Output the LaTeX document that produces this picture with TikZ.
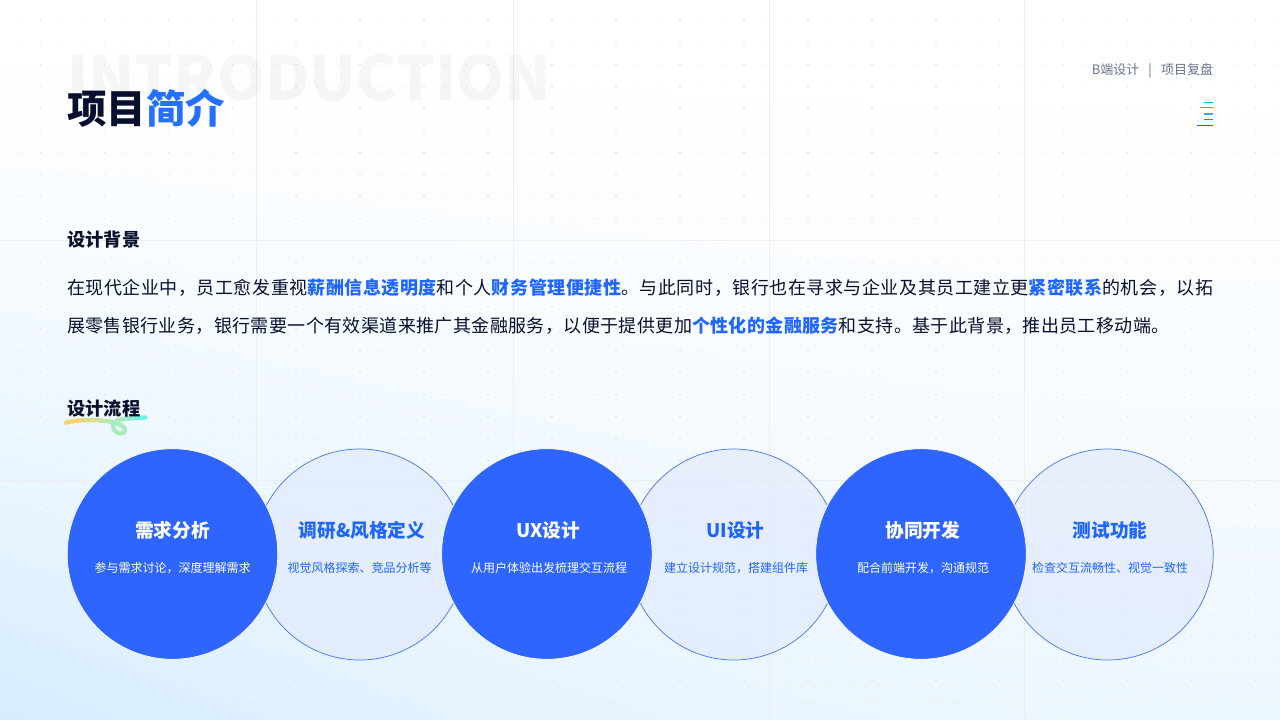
\documentclass[tikz,border=0pt]{standalone}
\usepackage{fontspec}
\setmainfont{Noto Sans CJK SC}
\newfontfamily\heavyfont[UprightFont=* Black,BoldFont=* Black]{Noto Sans CJK SC}
\newfontfamily\bodyfont[LetterSpace=2.2]{Noto Sans CJK SC}
\newfontfamily\bodywide[LetterSpace=3.05]{Noto Sans CJK SC}
\newcommand{\px}[1]{\pgfmathsetmacro\fsz{#1*0.75}\fontsize{\fsz pt}{\fsz pt}\selectfont}
\definecolor{ink}{HTML}{08102E}
\definecolor{accent}{HTML}{1F66FF}
\definecolor{titleblue}{HTML}{2670FF}
\definecolor{circblue}{HTML}{2E65FF}
\definecolor{circline}{HTML}{4D78EE}
\definecolor{graytxt}{HTML}{6B7589}
\definecolor{gridc}{HTML}{EEEEF0}
\definecolor{dotc}{HTML}{D6DAE2}
\definecolor{circfill}{HTML}{DFE8FC}
\definecolor{iconA}{HTML}{00B2FF}
\definecolor{iconB}{HTML}{19B8FF}
\definecolor{iconC}{HTML}{3DA5FF}
\definecolor{iconD}{HTML}{2B7FFF}
\definecolor{iconE}{HTML}{1560F0}
\definecolor{curlA}{HTML}{F6D46A}
\definecolor{curlB}{HTML}{DEDD8A}
\definecolor{curlC}{HTML}{BFE6A6}
\definecolor{curlD}{HTML}{AAEBBE}
\definecolor{curlE}{HTML}{8FEFD6}
\definecolor{curlF}{HTML}{6FF2E6}
\pgfdeclarefunctionalshading{pagebg}{\pgfpoint{0bp}{0bp}}{\pgfpoint{100bp}{100bp}}{}{
  25 sub 50 div 1 exch sub dup sqrt mul
  exch 25 sub 50 div 1 exch sub dup mul 0.55 mul 0.45 add
  mul
  dup 0.16 mul 1 exch sub exch
  dup 0.072 mul 1 exch sub exch
  pop 1
}
\tikzset{
  every node/.style={inner sep=0pt,outer sep=0pt},
  darkcirc/.style={circle,minimum size=157.9pt,fill=circblue,draw=white,line width=0.5pt},
  lightcirc/.style={circle,minimum size=158.25pt,draw=circline,line width=0.55pt,fill=circfill,fill opacity=0.6},
  gridline/.style={draw=gridc,line width=0.6pt},
  ctitle/.style={font=\px{18.7}\bfseries,anchor=center},
  csub/.style={font=\px{12},anchor=center},
  heading/.style={font=\px{18.2}\bfseries,text=ink,anchor=west},
  para/.style={font=\bodyfont\px{18},text=ink,anchor=west},
  iconbar/.style={line width=0.75pt},
  curl/.style={line width=3.2pt,line cap=round,line join=round}
}
\newcommand{\hl}[1]{\textcolor{accent}{\bfseries #1}}
\begin{document}
\begin{tikzpicture}[x=0.75pt,y=-0.75pt]
\useasboundingbox (0,0) rectangle (1280,720);
\shade[shading=pagebg] (0,0) rectangle (1280,720);
% dots
\foreach \i in {0,...,59}{\foreach \j in {0,...,32}{
  \fill[dotc] ({\i*21.33+18.7-0.5},{\j*22-1.3-0.5}) rectangle ++(1.1,1.1);
}}
% grid lines
\foreach \x in {256,513,769,1024}{\draw[gridline] (\x,0) -- (\x,720);}
\foreach \y in {240,480}{\draw[gridline] (0,\y) -- (1280,\y);}
% header
\node[anchor=west,text=ink,opacity=0.035,font=\heavyfont\px{61}] (intro) at (67,78) {INTRODUCTION};
\node[anchor=west,font=\heavyfont\px{39.5}] (title) at (67,108.5) {\textcolor{ink}{项目}\textcolor{titleblue}{简介}};
\node[anchor=east,text=graytxt,font=\px{13}] (crumb) at (1213,70.5) {B端设计\hspace{0.7em}|\hspace{0.7em}项目复盘};
% icon
\coordinate (ir1) at (1213,102.5); \coordinate (il1) at (1204,102.5);
\coordinate (ir2) at (1213,107.5); \coordinate (il2) at (1199.5,107.5);
\coordinate (ir3) at (1213,113.7); \coordinate (il3) at (1204,113.7);
\coordinate (ir4) at (1213,119.5); \coordinate (il4) at (1204,119.5);
\coordinate (ir5) at (1213,125.5); \coordinate (il5) at (1197,125.5);
\draw[iconbar,draw=iconA] (il1) -- (ir1);
\draw[iconbar,draw=iconB] (il2) -- (ir2);
\draw[line width=1.5pt,draw=iconC] (il3) -- (ir3);
\draw[iconbar,draw=iconD] (il4) -- (ir4);
\draw[iconbar,draw=iconE] (il5) -- (ir5);
% text
\node[heading] (bg) at (67.5,239.5) {设计背景};
\node[para,font=\bodywide\px{18}] (l1) at (67,287.7) {在现代企业中，员工愈发重视\hl{薪酬信息透明度}和个人\hl{财务管理便捷性}。与此同时，银行也在寻求与企业及其员工建立更\hl{紧密联系}的机会，以拓};
\node[para] (l2) at (67,325.7) {展零售银行业务，银行需要一个有效渠道来推广其金融服务，以便于提供更加\hl{个性化的金融服务}和支持。基于此背景，推出员工移动端。};
% squiggle
\draw[curl,draw=curlA] (66,422.7) .. controls (72,421) and (78,420.5) .. (84,420.3);
\draw[curl,draw=curlB] (84,420.3) .. controls (90,420) and (96,420) .. (100,420.5);
\draw[curl,draw=curlC] (100,420.5) .. controls (104,421) and (108,421.2) .. (111,421.7);
\draw[curl,draw=curlD] (111,421.7) .. controls (119,423) and (128,428) .. (124.5,432.5) .. controls (120,436) and (112,431) .. (113,425) .. controls (114,420.5) and (120,419) .. (128,418.5);
\draw[curl,draw=curlE] (128,418.5) -- (137,418);
\draw[curl,draw=curlF] (137,418) -- (145.5,417.5);
\node[heading] (flow) at (67.5,409) {设计流程};
% circles
\node[lightcirc] (c2) at (359.7,554.5) {};
\node[lightcirc] (c4) at (733.9,554.5) {};
\node[lightcirc] (c6) at (1107.7,554.5) {};
\node[darkcirc] (c1) at (172.5,554) {};
\node[darkcirc] (c3) at (546.9,554) {};
\node[darkcirc] (c5) at (921,554) {};
% labels
\node[ctitle,text=white] (t1) at (172.5,530) {需求分析};
\node[csub,text=white] (s1) at (172.5,568) {参与需求讨论，深度理解需求};
\node[ctitle,text=accent] (t2) at (362,530) {调研\&风格定义};
\node[csub,text=accent] (s2) at (359.5,568) {视觉风格探索、竞品分析等};
\node[ctitle,text=white] (t3) at (548.5,530) {UX设计};
\node[csub,text=white] (s3) at (549,568) {从用户体验出发梳理交互流程};
\node[ctitle,text=accent] (t4) at (735.5,530) {UI设计};
\node[csub,text=accent] (s4) at (736,568) {建立设计规范，搭建组件库};
\node[ctitle,text=white] (t5) at (922.7,530) {协同开发};
\node[csub,text=white] (s5) at (923,568) {配合前端开发，沟通规范};
\node[ctitle,text=accent] (t6) at (1110,530) {测试功能};
\node[csub,text=accent] (s6) at (1110,568) {检查交互流畅性、视觉一致性};
\end{tikzpicture}
\end{document}
